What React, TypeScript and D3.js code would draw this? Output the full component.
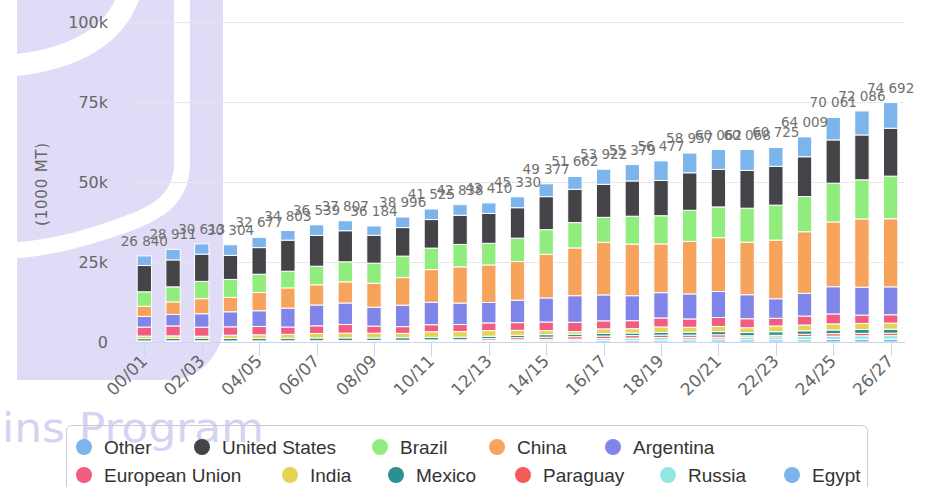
import React from 'react';
import * as d3 from 'd3';

const categories = ['00/01','01/02','02/03','03/04','04/05','05/06','06/07','07/08','08/09','09/10','10/11','11/12','12/13','13/14','14/15','15/16','16/17','17/18','18/19','19/20','20/21','21/22','22/23','23/24','24/25','25/26','26/27'];

// totals shown above each stack (1000 MT)
const totals = [26840,28911,30613,30304,32677,34803,36539,37807,36184,38996,41525,42838,43410,45330,49377,51662,53922,55379,56477,58957,60062,60068,60725,64009,70061,72086,74692];

// series values in thousands of (1000 MT)
const other =     [3.0,3.3,3.2,3.3,3.2,3.0,3.3,3.1,2.9,3.3,3.3,3.3,3.3,3.4,4.0,4.0,4.7,5.1,6.1,6.15,6.2,6.5,5.9,6.2,7.0,7.5,8.0];
const unitedStates = [8.2,8.4,8.5,7.5,8.3,9.7,9.6,9.7,8.7,8.9,8.9,9.1,9.3,9.5,10.3,10.4,10.3,11.0,11.0,11.7,11.7,11.8,12.1,12.4,13.5,14.0,14.95];
const brazil =    [4.5,4.7,5.4,5.6,5.7,5.2,5.8,6.25,6.25,6.7,6.7,7.0,6.75,7.3,7.7,7.9,7.8,8.7,8.8,9.7,9.6,10.6,10.9,11.0,12.1,12.2,13.3];
const china =     [3.2,3.9,4.7,4.5,5.7,6.3,6.3,6.6,7.5,8.6,10.2,11.3,11.7,12.05,13.6,14.9,16.4,16.1,15.2,16.4,16.8,16.4,18.3,19.2,20.2,21.3,21.25];
const argentina = [3.3,3.6,4.2,4.7,4.9,5.9,6.5,6.7,5.9,6.7,7.0,6.7,6.4,7.0,7.5,8.3,8.1,7.8,7.9,7.8,8.1,7.5,6.1,7.1,8.5,8.7,8.7];
const europeanUnion = [2.8,3.1,2.8,2.6,2.6,2.3,2.4,2.7,2.2,2.1,2.2,2.2,2.4,2.4,2.7,2.9,2.5,2.5,2.8,2.6,2.8,2.8,2.4,2.8,3.1,2.6,2.6];
const india =     [0.8,0.75,0.6,1.0,1.1,1.2,1.4,1.5,1.5,1.35,1.75,1.75,1.75,1.55,1.25,0.8,1.45,1.35,1.7,1.55,1.6,1.5,1.8,1.8,1.9,1.9,1.9];
const mexico =    [0.75,0.8,0.85,0.8,0.8,0.8,0.85,0.85,0.8,0.8,0.8,0.8,0.75,0.75,0.8,0.8,0.8,0.8,0.85,0.9,1.0,1.0,1.1,1.1,1.15,1.2,1.25];
const paraguay =  [0.2,0.25,0.25,0.2,0.2,0.2,0.2,0.2,0.2,0.2,0.2,0.2,0.5,0.65,0.7,0.75,0.75,0.75,0.75,0.7,0.75,0.4,0.5,0.7,0.75,0.75,0.75];
const russia =    [0.05,0.05,0.06,0.07,0.08,0.1,0.1,0.12,0.15,0.2,0.25,0.3,0.3,0.4,0.45,0.5,0.6,0.75,0.8,0.8,0.8,0.85,0.9,1.0,1.05,1.1,1.1];
const egypt =     [0.06,0.06,0.06,0.06,0.07,0.08,0.1,0.1,0.1,0.15,0.2,0.2,0.25,0.3,0.35,0.4,0.5,0.5,0.6,0.65,0.7,0.7,0.7,0.7,0.8,0.85,0.9];

const seriesNames = ['Other','United States','Brazil','China','Argentina','European Union','India','Mexico','Paraguay','Russia','Egypt'];
const seriesValues = [other, unitedStates, brazil, china, argentina, europeanUnion, india, mexico, paraguay, russia, egypt];
const seriesColors = ['#7cb5ec','#434348','#90ed7d','#f7a35c','#8085e9','#f15c80','#e4d354','#2b908f','#f45b5b','#91e8e1','#7cb5ec'];

const yTickValues = [0,25,50,75,100];
const yTickLabels = ['0','25k','50k','75k','100k'];

// legend layout (row, marker x)
const legendRows = [0,0,0,0,0,1,1,1,1,1,1];
const legendX = [84,202,380,497,613,84,290,396,523,668,792];

export default function App() {
  const W = 927, H = 487;
  const x = d3.scaleBand<string>().domain(categories).range([130, 905]).paddingInner(0.5).paddingOuter(0.25);
  const y = d3.scaleLinear().domain([0, 100]).range([342, 21.5]);

  const rows = categories.map((c, i) => {
    const r: any = { cat: c };
    seriesNames.forEach((n, k) => { r[n] = seriesValues[k][i]; });
    return r;
  });
  const stackKeys = [...seriesNames].reverse(); // bottom: Egypt ... top: Other
  const stacked = d3.stack<any>().keys(stackKeys)(rows);
  const colorOf = (name: string) => seriesColors[seriesNames.indexOf(name)];
  const fmt = (v: number) => d3.format(',')(v).replace(/,/g, ' ');
  const bw = x.bandwidth();

  return (
    <div style={{ position: 'absolute', left: 0, top: 0 }}>
      <svg width={W} height={H} style={{ display: 'block', fontFamily: 'DejaVu Sans, sans-serif' }}>
        <rect x={0} y={0} width={W} height={H} fill="#ffffff" />
        {/* watermark */}
        <path d="M17,0 H223 V325 A55,55 0 0 1 168,380 H17 Z" fill="#e0dbf6" />
        <path d="M130,-8 C117,35 75,60 8,66" fill="none" stroke="#ffffff" strokeWidth={22} />
        <path d="M182,-5 L182,165 C181,205 150,217 100,233 C70,243 40,249 8,251" fill="none" stroke="#ffffff" strokeWidth={16} />
        <text x={2} y={442} fontSize={40} fill="#d8d2f2" textLength={262} lengthAdjust="spacingAndGlyphs">ins Program</text>

        {/* grid */}
        {yTickValues.filter(v => v > 0).map(v => (
          <line key={v} x1={130} x2={905} y1={Math.round(y(v)) + 0.5} y2={Math.round(y(v)) + 0.5} stroke="#e6e6e6" strokeWidth={1} />
        ))}
        {yTickValues.map((v, i) => (
          <text key={v} x={108} y={y(v) + 6} textAnchor="end" fontSize={16} fill="#666666">{yTickLabels[i]}</text>
        ))}
        <text transform={`translate(47,184) rotate(-90)`} textAnchor="middle" fontSize={15} fill="#666666" letterSpacing={0.8}>(1000 MT)</text>

        {/* bars */}
        {stacked.map(layer => (
          <g key={layer.key} fill={colorOf(layer.key)}>
            {layer.map((d, i) => {
              const y0 = y(d[0]), y1 = y(d[1]);
              return (
                <rect key={i} x={(x(categories[i]) as number)} y={y1} width={bw} height={Math.max(0, y0 - y1)} stroke="#ffffff" strokeWidth={1} />
              );
            })}
          </g>
        ))}

        {/* axis */}
        <line x1={130} x2={905} y1={342.5} y2={342.5} stroke="#ccd6eb" strokeWidth={1} />
        {categories.map((c, i) => i % 2 === 0 ? (
          <g key={c}>
            <line x1={Math.round((x(c) as number) + bw / 2) + 0.5} x2={Math.round((x(c) as number) + bw / 2) + 0.5} y1={342} y2={356} stroke="#ccd6eb" />
            <text transform={`translate(${(x(c) as number) + bw / 2 + 4},362) rotate(-45)`} textAnchor="end" fontSize={17} fill="#666666">{c}</text>
          </g>
        ) : null)}

        {/* stack labels */}
        {rows.map((r, i) => {
          const sum = seriesNames.reduce((s, n) => s + r[n], 0);
          return (
            <text key={i} x={(x(categories[i]) as number) + bw / 2} y={y(sum) - 10} textAnchor="middle" fontSize={13.5} fill="#707070">{fmt(totals[i])}</text>
          );
        })}

        {/* legend */}
        <rect x={66.5} y={425.5} width={801} height={90} rx={5} fill="none" stroke="#cccccc" strokeWidth={1} />
        {seriesNames.map((n, i) => {
          const cy = legendRows[i] === 0 ? 447 : 475;
          return (
            <g key={n}>
              <circle cx={legendX[i]} cy={cy} r={8} fill={seriesColors[i]} />
              <text x={legendX[i] + 20} y={cy + 7} fontSize={19} fill="#333333" style={{ fontFamily: 'Liberation Sans, Arial, sans-serif' }}>{n}</text>
            </g>
          );
        })}
      </svg>
    </div>
  );
}
